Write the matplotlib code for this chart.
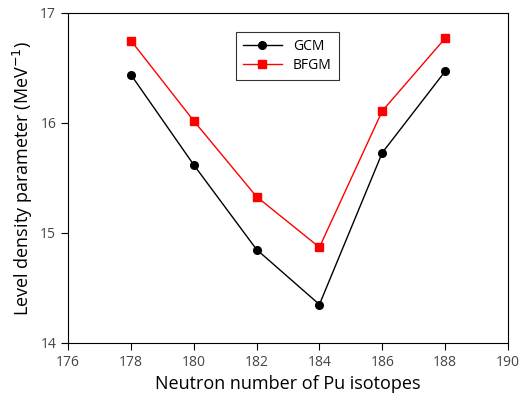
import matplotlib
matplotlib.use("Agg")
import matplotlib.pyplot as plt

neutrons = [178, 180, 182, 184, 186, 188]
gcm = [16.44, 15.62, 14.85, 14.35, 15.73, 16.47]
bfgm = [16.75, 16.02, 15.33, 14.87, 16.11, 16.77]
xticks = [176, 178, 180, 182, 184, 186, 188, 190]
yticks = [14, 15, 16, 17]

plt.rcParams['font.family'] = ['Open Sans', 'DejaVu Sans']
fig = plt.figure(figsize=(5.24, 4.03), dpi=100)
ax = fig.add_axes([68/524, 1 - 343/403, 440/524, 330/403])
ax.plot(neutrons, gcm, color='black', marker='o', markersize=5.5, linewidth=1, label='GCM')
ax.plot(neutrons, bfgm, color='red', marker='s', markersize=5.5, linewidth=1, label='BFGM')
ax.set_xlim(176, 190)
ax.set_ylim(14, 17)
ax.set_xticks(xticks)
ax.set_yticks(yticks)
ax.tick_params(direction='out', length=5, labelsize=10, labelcolor='#444444', width=0.8)
ax.set_xlabel('Neutron number of Pu isotopes', fontsize=13)
ax.set_ylabel('Level density parameter (MeV$^{-1}$)', fontsize=13)
leg = ax.legend(loc='upper left', bbox_to_anchor=((236-68)/440, (343-32)/330), frameon=True,
                fancybox=False, edgecolor='black', fontsize=10, handlelength=2.8, borderpad=0.5,
                borderaxespad=0, labelspacing=0.3)
leg.get_frame().set_linewidth(0.8)
fig.savefig('out.png', dpi=100)
